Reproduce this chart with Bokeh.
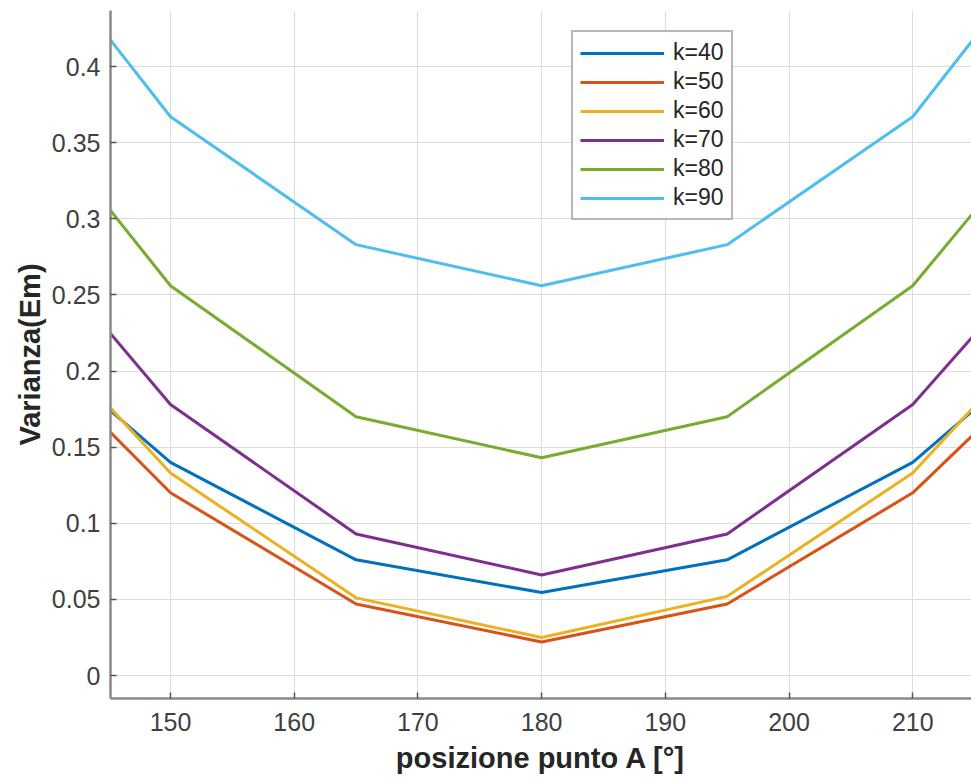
from bokeh.plotting import figure
from bokeh.models import Range1d, FixedTicker, NumeralTickFormatter, Legend, LegendItem
from bokeh.embed import file_html
from bokeh.resources import INLINE

# ---- data ----
x_pos = [145, 150, 165, 180, 195, 210, 215]
k40 = [0.175, 0.140, 0.076, 0.0545, 0.076, 0.140, 0.175]
k50 = [0.161, 0.120, 0.047, 0.022, 0.047, 0.120, 0.159]
k60 = [0.177, 0.133, 0.051, 0.025, 0.052, 0.133, 0.177]
k70 = [0.226, 0.178, 0.093, 0.066, 0.093, 0.178, 0.224]
k80 = [0.307, 0.256, 0.170, 0.143, 0.170, 0.256, 0.305]
k90 = [0.419, 0.367, 0.283, 0.256, 0.283, 0.367, 0.419]
series_labels = ["k=40", "k=50", "k=60", "k=70", "k=80", "k=90"]
x_ticks = [150, 160, 170, 180, 190, 200, 210]
y_ticks = [0, 0.05, 0.1, 0.15, 0.2, 0.25, 0.3, 0.35, 0.4]

colors = ["#0072BD", "#D95319", "#EDB120", "#7E2F8E", "#77AC30", "#4DBEEE"]
series = [k40, k50, k60, k70, k80, k90]

FONT = "Liberation Sans"

p = figure(width=971, height=778, output_backend="svg", toolbar_location=None,
           x_range=Range1d(145.15, 214.75), y_range=Range1d(-0.0151, 0.4368),
           min_border_left=110, min_border_top=10, min_border_right=0, min_border_bottom=80)
p.outline_line_color = None
p.background_fill_color = "white"
p.border_fill_color = "white"

items = []
for ys, c, lab in zip(series, colors, series_labels):
    r = p.line(x_pos, ys, line_color=c, line_width=3)
    items.append(LegendItem(label=lab, renderers=[r]))

for ax in (p.xaxis[0], p.yaxis[0]):
    ax.axis_line_color = "#8a8a8a"
    ax.axis_line_width = 2.5
    ax.major_tick_line_color = "#555555"
    ax.major_tick_line_width = 1.5
    ax.major_tick_in = 6
    ax.major_tick_out = 0
    ax.minor_tick_line_color = None
    ax.major_label_text_font = FONT
    ax.major_label_text_font_size = "25px"
    ax.major_label_text_color = "#404040"
    ax.axis_label_text_font = FONT
    ax.axis_label_text_font_size = "29px"
    ax.axis_label_text_font_style = "bold"
    ax.axis_label_text_color = "#262626"

p.xaxis.ticker = FixedTicker(ticks=x_ticks)
p.yaxis.ticker = FixedTicker(ticks=y_ticks)
p.yaxis.formatter = NumeralTickFormatter(format="0.[00]")
p.xaxis.axis_label = "posizione punto A [°]"
p.yaxis.axis_label = "Varianza(Em)"
p.xaxis.major_label_standoff = 14
p.yaxis.major_label_standoff = 10
p.xaxis.axis_label_standoff = 8
p.yaxis.axis_label_standoff = 3

p.xgrid.ticker = FixedTicker(ticks=x_ticks)
p.ygrid.ticker = FixedTicker(ticks=y_ticks)
p.grid.grid_line_color = "#dcdcdc"
p.grid.grid_line_width = 1

legend = Legend(items=items, location=(461, 478))
legend.label_text_font = FONT
legend.label_text_font_size = "23px"
legend.label_text_color = "#262626"
legend.glyph_width = 84
legend.glyph_height = 26
legend.label_height = 26
legend.spacing = 2
legend.padding = 7
legend.label_standoff = 9
legend.margin = 0
legend.border_line_color = "#707070"
legend.border_line_width = 2.5
legend.background_fill_color = "white"
legend.background_fill_alpha = 1
p.add_layout(legend, "center")

open("out.html", "w").write(file_html(p, INLINE))
